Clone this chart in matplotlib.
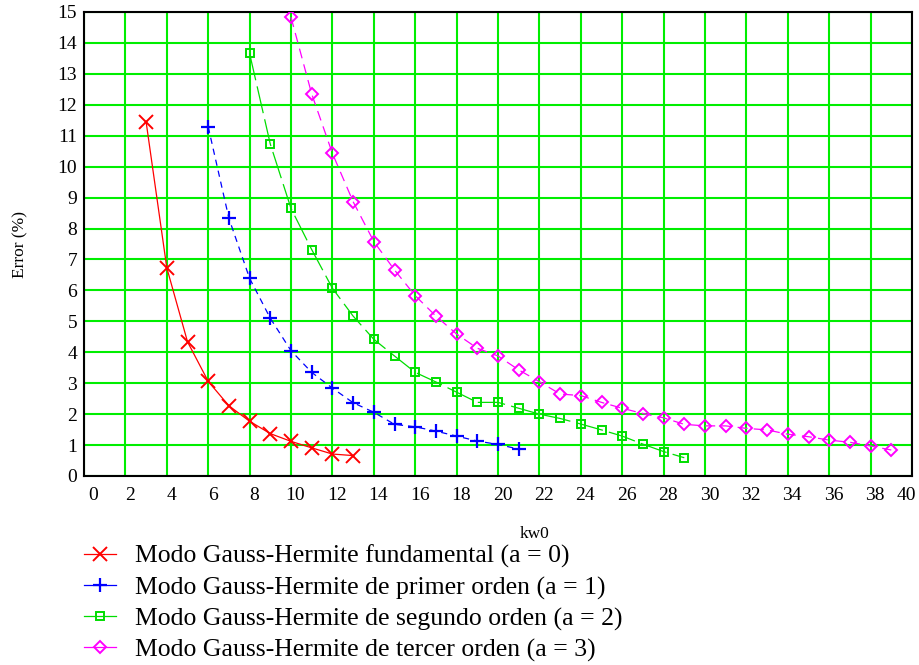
import matplotlib
matplotlib.use("Agg")
import matplotlib.pyplot as plt
import matplotlib.transforms as mtransforms
from matplotlib.lines import Line2D

plt.rcParams['font.family'] = ['Liberation Serif', 'DejaVu Serif']

### Values
x_a0 = list(range(3, 14))
err_a0 = [11.45, 6.73, 4.34, 3.06, 2.27, 1.77, 1.37, 1.12, 0.91, 0.71, 0.66]

x_a1 = list(range(6, 22))
err_a1 = [11.29, 8.33, 6.39, 5.10, 4.05, 3.35, 2.84, 2.37, 2.06, 1.67,
          1.59, 1.45, 1.29, 1.13, 1.02, 0.87]

x_a2 = list(range(8, 30))
err_a2 = [13.66, 10.73, 8.65, 7.32, 6.07, 5.17, 4.42, 3.88, 3.35, 3.04,
          2.71, 2.38, 2.38, 2.19, 2.00, 1.86, 1.68, 1.49, 1.29, 1.03,
          0.79, 0.59]

x_a3 = list(range(10, 40))
err_a3 = [14.83, 12.35, 10.43, 8.87, 7.58, 6.66, 5.83, 5.17, 4.59, 4.13,
          3.88, 3.43, 3.05, 2.65, 2.60, 2.38, 2.19, 2.02, 1.88, 1.67,
          1.62, 1.62, 1.54, 1.49, 1.35, 1.27, 1.16, 1.09, 0.97, 0.84]

labels = ["Modo Gauss-Hermite fundamental (a = 0)",
          "Modo Gauss-Hermite de primer orden (a = 1)",
          "Modo Gauss-Hermite de segundo orden (a = 2)",
          "Modo Gauss-Hermite de tercer orden (a = 3)"]

xticks = list(range(0, 41, 2))
yticks = list(range(0, 16))

fig = plt.figure(figsize=(9.19, 6.65), dpi=100)
ax = fig.add_axes([84/919, 1 - 476/665, 828/919, 464/665])

styles = [
    dict(color='#ff0000', marker='x', ms=9.5, mew=1.4, ls='-'),
    dict(color='#0000ff', marker='+', ms=10, mew=1.6, ls=(0, (5, 4))),
    dict(color='#00dd00', marker='s', ms=6, mew=1.4, mfc='none', ls=(0, (22, 5))),
    dict(color='#ff00ff', marker='D', ms=6.5, mew=1.4, mfc='none', ls=(0, (8, 5))),
]
series = [(x_a0, err_a0), (x_a1, err_a1), (x_a2, err_a2), (x_a3, err_a3)]
for (xs, ys), st in zip(series, styles):
    ax.plot(xs, ys, lw=0.9, zorder=3, **st)

ax.set_xlim(0, 40)
ax.set_ylim(0, 15)
ax.set_xticks(xticks)
ax.set_yticks(yticks)
ax.grid(True, color='#00ee00', lw=1.5, zorder=0)
ax.set_axisbelow(True)
ax.tick_params(length=0, labelsize=14)
ax.tick_params(axis='x', pad=8)
ax.tick_params(axis='y', pad=5)
for sp in ax.spines.values():
    sp.set_linewidth(1.5)
    sp.set_color('black')

# the x labels sit a little to the right of their gridlines in the original
xlabs = ax.get_xticklabels()
for i, lab in enumerate(xlabs):
    dx = 4.5
    if i == 0:
        dx = 9
    elif i == len(xlabs) - 1:
        dx = -6
    off = mtransforms.ScaledTranslation(dx/100, 0, fig.dpi_scale_trans)
    lab.set_transform(lab.get_transform() + off)

fig.text(20/919, 1 - 245/665, 'Error (%)', rotation='vertical', ha='center', va='center', fontsize=12.5)
fig.text(535/919, 1 - 534/665, 'kw0', ha='center', va='center', fontsize=12.5)

handles = [Line2D([], [], lw=0.9, **{**st, 'ls': '-'}) for st in styles]
fig.legend(handles, labels, loc='upper left', bbox_to_anchor=(84/919, 1 - 545/665),
           frameon=False, fontsize=18.5, handlelength=1.25, handletextpad=0.75,
           labelspacing=0.3, borderaxespad=0, borderpad=0)

fig.savefig('out.png', dpi=100)
